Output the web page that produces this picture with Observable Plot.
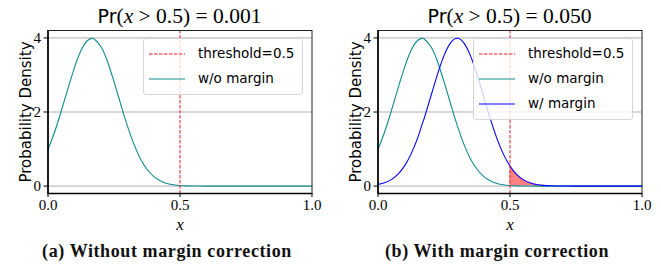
<!DOCTYPE html>
<html>
<head>
<meta charset="utf-8">
<script src="https://cdn.jsdelivr.net/npm/d3@7"></script>
<script src="https://cdn.jsdelivr.net/npm/@observablehq/plot@0.6"></script>
<style>
  html, body { margin: 0; padding: 0; background: #fff; }
  #root { position: relative; width: 661px; height: 267px; overflow: hidden; }
  .panel { position: absolute; top: 0; width: 330px; height: 235px; }
  .title { position: absolute; top: 4px; font-family: "Liberation Serif", serif; font-size: 21.5px; white-space: nowrap; transform: translateX(-50%); color: #000; }
  .title .pr { font-family: "DejaVu Sans", sans-serif; font-size: 19px; }
  .title i { font-style: italic; }
  .legend { position: absolute; background: rgba(255,255,255,0.8); border: 1px solid #d6d6d6; border-radius: 3px; box-sizing: border-box; }
  .legend .row { position: absolute; left: 0; height: 20px; width: 100%; }
  .legend svg { position: absolute; left: 4px; top: 0; }
  .legend span { position: absolute; left: 54px; top: 1px; font-family: "DejaVu Sans", sans-serif; font-size: 13.5px; color: #000; white-space: nowrap; }
  .caption { position: absolute; top: 241px; font-family: "Liberation Serif", serif; font-weight: bold; font-size: 18px; letter-spacing: 0.6px; white-space: nowrap; transform: translateX(-50%); color: #111; }
</style>
</head>
<body>
<div id="root"></div>
<script>
const xs = [0.000, 0.025, 0.050, 0.075, 0.100, 0.125, 0.150, 0.1667, 0.175, 0.200, 0.225, 0.250, 0.275, 0.300,
            0.325, 0.350, 0.375, 0.400, 0.425, 0.450, 0.475, 0.500, 0.525, 0.550, 0.575, 0.600, 0.625, 0.650,
            0.675, 0.700, 0.725, 0.750, 0.800, 0.850, 0.900, 0.950, 1.000];
// "w/o margin" density (teal)
const withoutMargin = [0.99, 1.46, 2.02, 2.62, 3.19, 3.66, 3.93, 3.99, 3.97, 3.77, 3.37, 2.82, 2.22, 1.64,
                       1.14, 0.74, 0.455, 0.262, 0.142, 0.072, 0.034, 0.015, 0.0065, 0.0026, 0.001, 0.0003, 0.0001, 0,
                       0, 0, 0, 0, 0, 0, 0, 0, 0];
// "w/ margin" density (blue)
const withMargin = [0.044, 0.091, 0.175, 0.317, 0.54, 0.863, 1.295, 1.66, 1.826, 2.42, 3.011, 3.521, 3.866, 3.99,
                    3.866, 3.521, 3.011, 2.42, 1.826, 1.295, 0.863, 0.54, 0.317, 0.175, 0.091, 0.044, 0.02, 0.0087,
                    0.0035, 0.0013, 0.0005, 0.0002, 0, 0, 0, 0, 0];
const threshold = 0.5;
const xTicks = [0, 0.5, 1];
const yTicks = [0, 2, 4];
const titles = ["0.001", "0.050"];
const captions = ["(a) Without margin correction", "(b) With margin correction"];
const legendLabels = ["threshold=0.5", "w/o margin", "w/ margin"];

const teal = "#0f8c8c";
const blue = "#0000ff";
const red = "#e8202a";

const dataWithout = xs.map((x, i) => ({x, y: withoutMargin[i]}));
const dataWith = xs.map((x, i) => ({x, y: withMargin[i]}));
const tail = dataWith.filter(d => d.x >= threshold);

const root = document.getElementById("root");
const W = 330, H = 235, ML = 47.5, MR = 18.5, MT = 30, MB = 42;

function makePanel(idx, showWith) {
  const marks = [
    Plot.ruleY(yTicks, {stroke: "#b0b0b0", strokeWidth: 1}),
  ];
  if (showWith) {
    marks.push(Plot.areaY(tail, {x: "x", y: "y", fill: "#ff6b6b", fillOpacity: 0.85, curve: "monotone-x"}));
  }
  marks.push(Plot.line(dataWithout, {x: "x", y: "y", stroke: teal, strokeWidth: 1.1, curve: "natural"}));
  if (showWith) {
    marks.push(Plot.line(dataWith, {x: "x", y: "y", stroke: blue, strokeWidth: 1.1, curve: "natural"}));
  }
  marks.push(
    Plot.ruleX([threshold], {stroke: red, strokeWidth: 1, strokeDasharray: "3.5,1.5"}),
    Plot.frame({stroke: "#222", strokeWidth: 1}),
    Plot.ruleX([0], {stroke: "#000", strokeWidth: 1.6}),
    Plot.ruleY([-0.2], {stroke: "#000", strokeWidth: 1.6}),
    Plot.axisX(xTicks, {tickFormat: d => d.toFixed(1), tickSize: 4, tickPadding: 2, fontSize: 15, label: null,
      fontFamily: "Liberation Serif, serif"}),
    Plot.axisY(yTicks, {tickFormat: d => String(d), tickSize: 4, tickPadding: 3, fontSize: 15, label: null,
      fontFamily: "Liberation Serif, serif"}),
    Plot.text(["x"], {frameAnchor: "bottom", dy: 31, lineAnchor: "middle", text: d => d, fontSize: 17, fontStyle: "italic",
      fontFamily: "Liberation Serif, serif", fill: "#000"}),
    Plot.text(["Probability Density"], {frameAnchor: "left", textAnchor: "middle", dx: -22, rotate: -90, text: d => d, fontSize: 15,
      fontFamily: "DejaVu Sans, sans-serif", fill: "#000"})
  );
  const chart = Plot.plot({
    width: W, height: H,
    marginLeft: ML, marginRight: MR, marginTop: MT, marginBottom: MB,
    x: {domain: [0, 1]},
    y: {domain: [-0.2, 4.2]},
    style: {background: "transparent", color: "#000", overflow: "visible"},
    marks
  });
  const panel = document.createElement("div");
  panel.className = "panel";
  panel.style.left = (idx * 330) + "px";
  panel.appendChild(chart);
  root.appendChild(panel);

  const cx = idx * 330 + ML + (W - ML - MR) / 2;
  const t = document.createElement("div");
  t.className = "title";
  t.style.left = cx + "px";
  t.innerHTML = `<span class="pr">Pr</span>(<i>x</i> &gt; 0.5) = ${titles[idx]}`;
  root.appendChild(t);

  const lg = document.createElement("div");
  lg.className = "legend";
  lg.style.left = (idx * 330 + 143) + "px";
  lg.style.top = "38px";
  lg.style.width = "160px";
  const rows = showWith ? 3 : 2;
  lg.style.height = (showWith ? 82 : 57) + "px";
  const styles = [
    {stroke: red, dash: "3.5,1.5"},
    {stroke: teal, dash: null},
    {stroke: blue, dash: null}
  ];
  for (let r = 0; r < rows; r++) {
    const row = document.createElement("div");
    row.className = "row";
    row.style.top = (5 + r * 25) + "px";
    const s = styles[r];
    row.innerHTML = `<svg width="40" height="20"><line x1="1" x2="37" y1="10" y2="10" stroke="${s.stroke}" stroke-width="1.2" ${s.dash ? `stroke-dasharray="${s.dash}"` : ""}/></svg><span>${legendLabels[r]}</span>`;
    lg.appendChild(row);
  }
  root.appendChild(lg);

  const c = document.createElement("div");
  c.className = "caption";
  c.style.left = (idx === 0 ? 167 : 497) + "px";
  c.textContent = captions[idx];
  root.appendChild(c);
}

makePanel(0, false);
makePanel(1, true);
</script>
</body>
</html>
